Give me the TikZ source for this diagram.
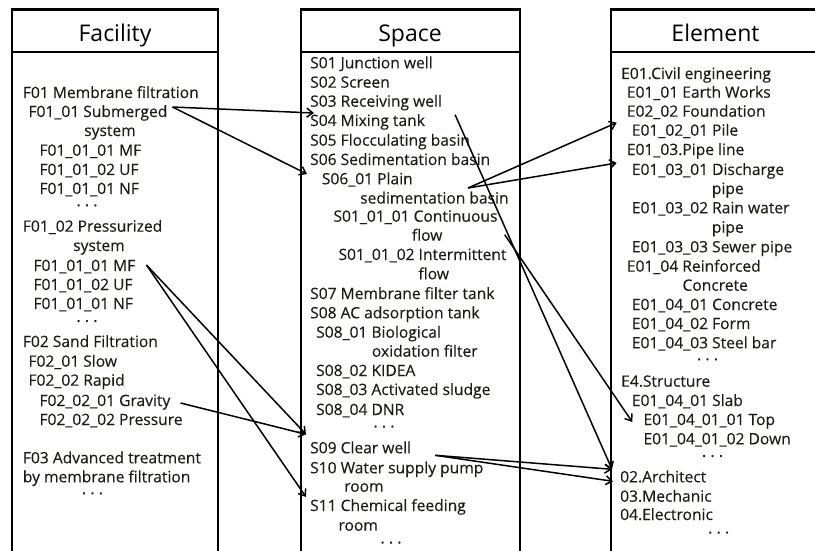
\documentclass[tikz,border=0pt]{standalone}
\usepackage{fontspec}
\setmainfont{Open Sans}
\newfontfamily\listfont[FakeBold=0.25]{Open Sans}
\usetikzlibrary{arrows.meta,calc}
\definecolor{ink}{HTML}{1E1A16}
\begin{document}
\begin{tikzpicture}[x=1pt,y=-1pt,
  frame/.style={line width=2.6pt},
  head/.style={anchor=base,inner sep=0pt,font=\fontsize{23}{26}\selectfont,text=black},
  txt/.style={anchor=base west,inner sep=0pt,font=\listfont\fontsize{15.6}{18}\selectfont,text=ink},
  dots/.style={anchor=base,inner sep=0pt,font=\listfont\fontsize{16}{18}\selectfont,text=ink},
  link/.style={line width=1.5pt,-{Straight Barb[length=6pt,width=9pt,line width=1.5pt]}}]
\useasboundingbox (0,0) rectangle (815,551);
\clip (0,0) rectangle (815,551);

% column frames with header bars
\draw[frame] (12,9.5) rectangle (218,570);
\draw[frame] (12,52) -- (218,52);
\draw[frame] (301,9.5) rectangle (520,570);
\draw[frame] (301,52) -- (520,52);
\draw[frame] (611,9.5) rectangle (830,570);
\draw[frame] (611,52) -- (830,52);

\node[head] (hf) at (115,41.7) {Facility};
\node[head] (hs) at (410,41.7) {Space};
\node[head] (he) at (715.5,41.7) {Element};

% Facility list
\node[txt] (f1) at (22.7,98) {F01 Membrane filtration};
\node[txt] (f2) at (28.3,117) {F01\_01 Submerged};
\node[txt] (f3) at (84,136) {system};
\node[txt] (f4) at (39.3,155.7) {F01\_01\_01 MF};
\node[txt] (f5) at (39.3,175) {F01\_01\_02 UF};
\node[txt] (f6) at (39.3,194) {F01\_01\_01 NF};
\node[dots] (fd1) at (87,211) {·\ ·\ ·};
\node[txt] (f7) at (22.7,231.7) {F01\_02 Pressurized};
\node[txt] (f8) at (73,251) {system};
\node[txt] (f9) at (33.3,271) {F01\_01\_01 MF};
\node[txt] (f10) at (33.3,290) {F01\_01\_02 UF};
\node[txt] (f11) at (33.3,309) {F01\_01\_01 NF};
\node[dots] (fd2) at (87,326.7) {·\ ·\ ·};
\node[txt] (f12) at (22.7,347) {F02 Sand Filtration};
\node[txt] (f13) at (28.3,366.7) {F02\_01 Slow};
\node[txt] (f14) at (28.3,385.7) {F02\_02 Rapid};
\node[txt] (f15) at (39.3,406) {F02\_02\_01 Gravity};
\node[txt] (f16) at (39.3,425) {F02\_02\_02 Pressure};
\node[txt] (f17) at (22.7,463.3) {F03 Advanced treatment};
\node[txt] (f18) at (22.7,482.3) {by membrane filtration};
\node[dots] (fd3) at (92.5,499) {·\ ·\ ·};

% Space list
\node[txt] (s1) at (310,68.3) {S01 Junction well};
\node[txt] (s2) at (310,87.7) {S02 Screen};
\node[txt] (s3) at (310,106.7) {S03 Receiving well};
\node[txt] (s4) at (310,126) {S04 Mixing tank};
\node[txt] (s5) at (310,145.7) {S05 Flocculating basin};
\node[txt] (s6) at (310,165) {S06 Sedimentation basin};
\node[txt] (s7) at (321.7,184.3) {S06\_01 Plain};
\node[txt] (s8) at (360,203.6) {sedimentation basin};
\node[txt] (s9) at (333.3,221.7) {S01\_01\_01 Continuous};
\node[txt] (s10) at (411.7,240.7) {flow};
\node[txt] (s11) at (338.3,260) {S01\_01\_02 Intermittent};
\node[txt] (s12) at (418.3,279.3) {flow};
\node[txt] (s13) at (310,299) {S07 Membrane filter tank};
\node[txt] (s14) at (310,318.3) {S08 AC adsorption tank};
\node[txt] (s15) at (316,337.7) {S08\_01 Biological};
\node[txt] (s16) at (371.7,356.7) {oxidation filter};
\node[txt] (s17) at (316,376) {S08\_02 KIDEA};
\node[txt] (s18) at (316,395) {S08\_03 Activated sludge};
\node[txt] (s19) at (316,415) {S08\_04 DNR};
\node[dots] (sd1) at (384,432.3) {·\ ·\ ·};
\node[txt] (s20) at (310,453.3) {S09 Clear well};
\node[txt] (s21) at (310,473.3) {S10 Water supply pump};
\node[txt] (s22) at (344,491.7) {room};
\node[txt] (s23) at (310,511) {S11 Chemical feeding};
\node[txt] (s24) at (338.3,530.7) {room};
\node[dots] (sd2) at (391,548.3) {·\ ·\ ·};

% Element list
\node[txt] (e1) at (621,79) {E01.Civil engineering};
\node[txt] (e2) at (626.7,97.7) {E01\_01 Earth Works};
\node[txt] (e3) at (626.7,116.7) {E02\_02 Foundation};
\node[txt] (e4) at (631.7,135.7) {E01\_02\_01 Pile};
\node[txt] (e5) at (626.7,155) {E01\_03.Pipe line};
\node[txt] (e6) at (631.7,175) {E01\_03\_01 Discharge};
\node[txt] (e7) at (711.7,194) {pipe};
\node[txt] (e8) at (631.7,213.3) {E01\_03\_02 Rain water};
\node[txt] (e9) at (711.7,232.7) {pipe};
\node[txt] (e10) at (631.7,252.3) {E01\_03\_03 Sewer pipe};
\node[txt] (e11) at (626.7,271.7) {E01\_04 Reinforced};
\node[txt] (e12) at (682.3,290.7) {Concrete};
\node[txt] (e13) at (631.7,310) {E01\_04\_01 Concrete};
\node[txt] (e14) at (631.7,329) {E01\_04\_02 Form};
\node[txt] (e15) at (631.7,348.3) {E01\_04\_03 Steel bar};
\node[dots] (ed1) at (707.5,365) {·\ ·\ ·};
\node[txt] (e16) at (621,386.7) {E4.Structure};
\node[txt] (e17) at (631.7,406) {E01\_04\_01 Slab};
\node[txt] (e18) at (643.3,425) {E01\_04\_01\_01 Top};
\node[txt] (e19) at (643.3,444.3) {E01\_04\_01\_02 Down};
\node[dots] (ed2) at (712.5,461.7) {·\ ·\ ·};
\node[txt] (e20) at (620,482.3) {02.Architect};
\node[txt] (e21) at (620,501.7) {03.Mechanic};
\node[txt] (e22) at (620,520) {04.Electronic};
\node[dots] (ed3) at (718.7,538.3) {·\ ·\ ·};

% Facility -> Space links
\draw[link] ($(f2.base east)+(5,-10)$) -- ($(s4.base west)+(4,-13)$);
\draw[link] ($(f2.base east)+(5,-10)$) -- ($(s6.base west)+(-3,9)$);
\draw[link] ($(f9.base east)+(11,-6)$) -- ($(s20.base west)+(-4,-19)$);
\draw[link] ($(f9.base east)+(11,-6)$) -- ($(s23.base west)+(-4,-14)$);
\draw[link] ($(f15.base east)+(10,-3)$) -- ($(s20.base west)+(-4,-19)$);

% Space -> Element links
\draw[link] ($(s8.base west)+(108,-15.6)$) -- ($(e4.base west)+(-15,-13)$);
\draw[link] ($(s8.base west)+(108,-15.6)$) -- ($(e6.base west)+(-15,-12)$);
\draw[link] ($(s3.base east)+(13,8)$) -- ($(e20.base west)+(-8,-13)$);
\draw[link] ($(s9.base east)+(7,13)$) -- ($(e18.base west)+(-11,-3)$);
\draw[link] ($(s20.base east)+(24,2)$) -- ($(e20.base west)+(-8,-13)$);
\draw[link] ($(s20.base east)+(24,2)$) -- ($(e20.base west)+(-7,-1)$);
\end{tikzpicture}
\end{document}
